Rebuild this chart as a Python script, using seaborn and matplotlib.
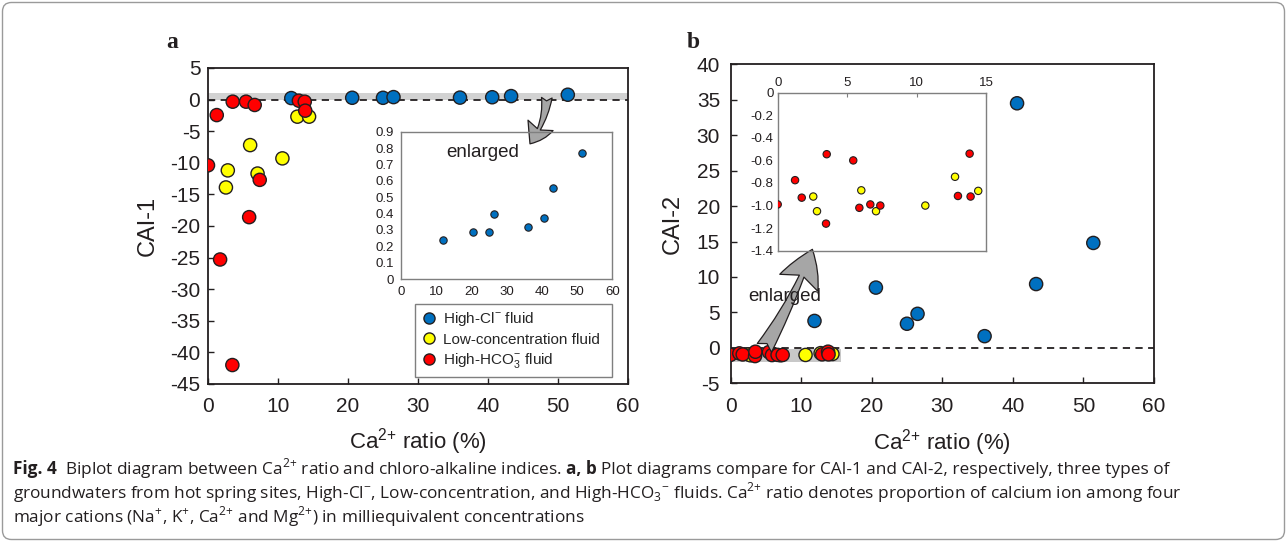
import numpy as np
import pandas as pd
import matplotlib
matplotlib.use("Agg")
import matplotlib.pyplot as plt
import seaborn as sns
from matplotlib.patches import FancyBboxPatch
from matplotlib.lines import Line2D
from matplotlib.transforms import IdentityTransform

# ---------------- data ----------------
types = ["High-Cl$^{\\mathregular{-}}$ fluid",
         "Low-concentration fluid",
         "High-HCO$_{\\mathregular{3}}^{\\mathregular{-}}$ fluid"]
colors = ["#0070C0", "#FFFF00", "#FF0000"]

blue_ca = [11.9, 20.6, 25.0, 26.5, 36.0, 40.6, 43.3, 51.4]
blue_cai1 = [0.24, 0.29, 0.285, 0.395, 0.315, 0.375, 0.555, 0.77]
blue_cai2 = [3.8, 8.5, 3.4, 4.8, 1.65, 34.5, 9.0, 14.8]

yellow_ca = [2.56, 2.83, 6.02, 7.08, 10.63, 12.77, 14.44]
yellow_cai1 = [-13.9, -11.2, -7.2, -11.7, -9.3, -2.7, -2.7]
yellow_cai2 = [-0.92, -1.05, -0.865, -1.05, -1.0, -0.745, -0.87]

red_ca = [0.0, 1.25, 1.73, 3.48, 3.53, 5.44, 5.88, 6.67, 7.39, 12.98, 13.82, 13.89]
red_cai1 = [-10.4, -2.45, -25.3, -42.0, -0.33, -0.33, -18.6, -0.85, -12.7, -0.17, -0.33, -1.75]
red_cai2 = [-0.99, -0.775, -0.93, -1.16, -0.545, -0.60, -1.02, -0.99, -1.0, -0.915, -0.54, -0.92]

main_xticks = [0, 10, 20, 30, 40, 50, 60]
a_yticks = [5, 0, -5, -10, -15, -20, -25, -30, -35, -40, -45]
b_yticks = [40, 35, 30, 25, 20, 15, 10, 5, 0, -5]
ia_yticks = [0, 0.1, 0.2, 0.3, 0.4, 0.5, 0.6, 0.7, 0.8, 0.9]
ib_xticks = [0, 5, 10, 15]
ib_yticks = [0, -0.2, -0.4, -0.6, -0.8, -1.0, -1.2, -1.4]

CA = "Ca$^{\\mathregular{2{+}}}$"
xlabel = CA + " ratio (%)"

df = pd.DataFrame({
    "ca": blue_ca + yellow_ca + red_ca,
    "cai1": blue_cai1 + yellow_cai1 + red_cai1,
    "cai2": blue_cai2 + yellow_cai2 + red_cai2,
    "type": [types[0]] * len(blue_ca) + [types[1]] * len(yellow_ca) + [types[2]] * len(red_ca),
})
palette = dict(zip(types, colors))

# ---------------- style ----------------
sns.set_style("white")
plt.rcParams["font.family"] = ["Liberation Sans", "DejaVu Sans"]
plt.rcParams["axes.unicode_minus"] = False
INK = "#231f20"

W, H = 1287, 542
fig = plt.figure(figsize=(W / 100, H / 100), dpi=100)


def frac(left, top, right, bottom):
    return [left / W, 1 - bottom / H, (right - left) / W, (bottom - top) / H]


def fmt(v):
    return "0" if v == 0 else f"{v:.1f}"


def style_main(ax, xpad, ypad):
    for sp in ax.spines.values():
        sp.set_color(INK)
        sp.set_linewidth(1.3)
        sp.set_visible(True)
    ax.tick_params(direction="in", length=4, width=1, color=INK, labelsize=15,
                   labelcolor=INK, top=False, right=False, bottom=True, left=True)
    ax.tick_params(axis="x", pad=xpad)
    ax.tick_params(axis="y", pad=ypad)


def style_inset(ax, fs=9.5):
    for sp in ax.spines.values():
        sp.set_color("#7f7f7f")
        sp.set_linewidth(1.0)
        sp.set_visible(True)
    ax.set_facecolor("none")
    ax.tick_params(labelsize=fs, labelcolor=INK, color="#7f7f7f", length=3, width=0.8)
    ax.set_xlabel("")
    ax.set_ylabel("")


# ---------------- panel a ----------------
ax1 = fig.add_axes(frac(208, 68, 628, 384))
ax1.axhspan(0, 1.0, color="#d2d2d2", lw=0, zorder=0.5)
ax1.axhline(0, ls=(0, (4, 3)), color=INK, lw=1.3, zorder=1)
sns.scatterplot(data=df, x="ca", y="cai1", hue="type", palette=palette, s=90,
                edgecolor=INK, linewidth=1, legend=False, ax=ax1, zorder=3)
ax1.set_xlim(0, 60)
ax1.set_ylim(-45, 5)
ax1.set_xticks(main_xticks)
ax1.set_yticks(a_yticks)
style_main(ax1, 9, 5.5)
ax1.set_xlabel(xlabel, fontsize=16, color=INK)
ax1.set_ylabel("CAI-1", fontsize=17, color=INK)
ax1.xaxis.set_label_coords(0.5, -0.133)
ax1.yaxis.set_label_coords(-0.117, 0.5)

ax1.annotate("", xy=(46.0, -7.0), xytext=(48.4, 0.3),
             arrowprops=dict(arrowstyle="fancy,head_length=0.9,head_width=1.15,tail_width=0.45",
                             fc="#a6a6a6", ec=INK, lw=0.9, shrinkA=0, shrinkB=0,
                             connectionstyle="arc3,rad=-0.15", mutation_scale=17),
             zorder=5)

handles = [Line2D([], [], ls="", marker="o", markersize=8, markerfacecolor=c,
                  markeredgecolor=INK, markeredgewidth=1) for c in colors]
leg = ax1.legend(handles, types, loc="upper left", bbox_to_anchor=(0.493, 0.035, 0.469, 0.218),
                 mode="expand", borderaxespad=0, fontsize=11, frameon=True, fancybox=False,
                 framealpha=1, edgecolor="#7f7f7f", handletextpad=0.4, labelspacing=0.3,
                 handlelength=1.0, borderpad=0.4)
leg.get_frame().set_linewidth(1.0)

# inset a
axi1 = fig.add_axes(frac(400.7, 131.7, 612.3, 279))
sns.scatterplot(data=df[df["type"] == types[0]], x="ca", y="cai1", color=colors[0], s=28,
                edgecolor=INK, linewidth=0.8, legend=False, ax=axi1, zorder=3)
axi1.set_xlim(0, 60)
axi1.set_ylim(0, 0.9)
axi1.set_xticks(main_xticks)
axi1.set_yticks(ia_yticks)
axi1.set_yticklabels([f"{v:g}" for v in ia_yticks])
style_inset(axi1)
axi1.tick_params(direction="out", pad=2)
axi1.text(0.387, 0.862, "enlarged", transform=axi1.transAxes, ha="center", va="center",
          fontsize=13.5, color=INK)

# ---------------- panel b ----------------
ax2 = fig.add_axes(frac(730.5, 64.3, 1154, 383.3))
ax2.axhspan(-2.0, -0.1, xmin=0, xmax=15.6 / 60, color="#c8c8c8", lw=0, zorder=0.5)
ax2.axhline(0, ls=(0, (4, 3)), color=INK, lw=1.3, zorder=1)
sns.scatterplot(data=df, x="ca", y="cai2", hue="type", palette=palette, s=90,
                edgecolor=INK, linewidth=1, legend=False, ax=ax2, zorder=3)
ax2.set_xlim(0, 60)
ax2.set_ylim(-5, 40)
ax2.set_xticks(main_xticks)
ax2.set_yticks(b_yticks)
style_main(ax2, 10, 7.5)
ax2.set_xlabel(xlabel, fontsize=16, color=INK)
ax2.set_ylabel("CAI-2", fontsize=17, color=INK)
ax2.xaxis.set_label_coords(0.5, -0.137)
ax2.yaxis.set_label_coords(-0.111, 0.5)

ax2.annotate("", xy=(11.6, 13.9), xytext=(4.8, 0.0),
             arrowprops=dict(arrowstyle="fancy,head_length=1.3,head_width=1.5,tail_width=0.6",
                             fc="#a6a6a6", ec=INK, lw=0.9, shrinkA=0, shrinkB=0,
                             connectionstyle="arc3,rad=0.05", mutation_scale=20),
             zorder=5)
ax2.text(7.7, 7.3, "enlarged", ha="center", va="center", fontsize=13.5, color=INK, zorder=6)

# inset b
axi2 = fig.add_axes(frac(777.7, 92.7, 986, 250.7))
sns.scatterplot(data=df[df["type"] != types[0]], x="ca", y="cai2", hue="type", palette=palette,
                s=28, edgecolor=INK, linewidth=0.8, legend=False, ax=axi2, zorder=3)
axi2.set_xlim(0, 15)
axi2.set_ylim(-1.4, 0)
axi2.set_xticks(ib_xticks)
axi2.set_yticks(ib_yticks)
axi2.set_yticklabels([fmt(v) for v in ib_yticks])
style_inset(axi2)
axi2.xaxis.tick_top()
axi2.tick_params(direction="in", pad=3)

# ---------------- panel letters ----------------
fig.text(172 / W, 1 - 42 / H, "a", family=["Liberation Serif", "DejaVu Serif"],
         weight="bold", fontsize=17, ha="center", va="center", color=INK)
fig.text(693 / W, 1 - 42 / H, "b", family=["Liberation Serif", "DejaVu Serif"],
         weight="bold", fontsize=17, ha="center", va="center", color=INK)

# ---------------- caption ----------------
renderer = fig.canvas.get_renderer()
cap_fs = 12.4
cap_family = ["Open Sans", "DejaVu Sans"]


def put(x, y, s, weight="normal"):
    t = fig.text(x / W, 1 - y / H, s, fontsize=cap_fs, family=cap_family, weight=weight,
                 va="baseline", ha="left", color=INK)
    return t.get_window_extent(renderer).x1


x = put(13, 474, "Fig. 4", "bold")
x = put(x + 8, 474, "Biplot diagram between " + CA + " ratio and chloro-alkaline indices.")
x = put(x + 4, 474, "a, b", "bold")
put(x + 4, 474, "Plot diagrams compare for CAI-1 and CAI-2, respectively, three types of")
put(13, 498, "groundwaters from hot spring sites, High-Cl$^{\\mathregular{-}}$, Low-concentration, and "
             "High-HCO$_{\\mathregular{3}}$$^{\\mathregular{-}}$ fluids. " + CA + " ratio "
             "denotes proportion of calcium ion among four")
put(13, 522, "major cations (Na$^{\\mathregular{+}}$, K$^{\\mathregular{+}}$, " + CA +
             " and Mg$^{\\mathregular{2{+}}}$) in milliequivalent concentrations")

# ---------------- outer frame ----------------
frame = FancyBboxPatch((2.5, 2.5), W - 5, H - 5, boxstyle="round,pad=0,rounding_size=9",
                       transform=IdentityTransform(), fc="none", ec="#9a9a9a", lw=1.0)
fig.patches.append(frame)

fig.savefig("out.png", dpi=100)
